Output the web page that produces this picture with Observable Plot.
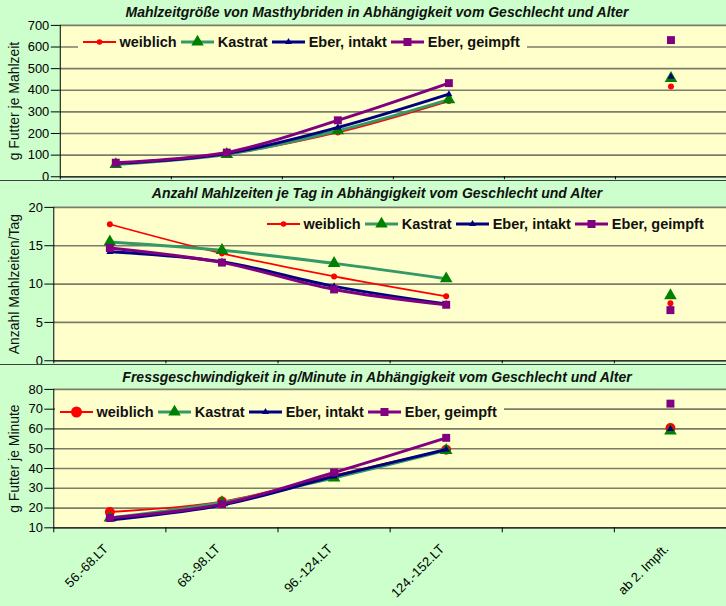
<!DOCTYPE html>
<html><head><meta charset="utf-8">
<script src="https://cdn.jsdelivr.net/npm/d3@7"></script>
<script src="https://cdn.jsdelivr.net/npm/@observablehq/plot@0.6"></script>
<style>
body{margin:0;background:#ccffcc;}
#wrap{position:relative;width:726px;height:606px;overflow:hidden;background:#ccffcc;font-family:"Liberation Sans",Arial,sans-serif;}
.panel{position:absolute;left:0;}
.title{position:absolute;left:0;width:754px;text-align:center;font-weight:bold;font-style:italic;font-size:14px;color:#111;line-height:16px;}
.legend{position:absolute;background:#ffffcc;display:flex;align-items:center;font-weight:bold;font-size:14.5px;color:#111;box-sizing:border-box;padding-left:5px;white-space:nowrap;}
.legend svg{display:block;margin-right:3.5px;}
.legend span{margin-right:4.5px;}
.sep{position:absolute;left:0;width:726px;height:1px;background:#404040;}
</style></head>
<body>
<div id="wrap"></div>
<script>
const categories = ["56.-68.LT", "68.-98.LT", "96.-124.LT", "124.-152.LT", "", "ab 2. Impft."];
const series = ["weiblich", "Kastrat", "Eber, intakt", "Eber, geimpft"];

const titles = [
  "Mahlzeitgröße von Masthybriden in Abhängigkeit vom Geschlecht und Alter",
  "Anzahl Mahlzeiten je Tag in Abhängigkeit vom Geschlecht und Alter",
  "Fressgeschwindigkeit in g/Minute in Abhängigkeit vom Geschlecht und Alter"
];
const yLabels = ["g Futter je Mahlzeit", "Anzahl Mahlzeiten/Tag", "g Futter je Minute"];

const yTicks1 = [0, 100, 200, 300, 400, 500, 600, 700];
const yTicks2 = [0, 5, 10, 15, 20];
const yTicks3 = [10, 20, 30, 40, 50, 60, 70, 80];

// Panel 1: g Futter je Mahlzeit
const mahl_weiblich = [62, 105, 205, 350, null, 417];
const mahl_kastrat  = [57, 104, 213, 357, null, 455];
const mahl_intakt   = [62, 108, 228, 382, null, 462];
const mahl_geimpft  = [65, 112, 261, 433, null, 632];

// Panel 2: Anzahl Mahlzeiten je Tag
const anz_weiblich = [17.8, 14.0, 11.0, 8.4, null, 7.5];
const anz_kastrat  = [15.5, 14.4, 12.7, 10.7, null, 8.5];
const anz_intakt   = [14.2, 12.9, 9.7, 7.4, null, 6.7];
const anz_geimpft  = [14.7, 12.8, 9.3, 7.3, null, 6.6];

// Panel 3: g Futter je Minute
const fress_weiblich = [18.0, 23.3, 36.5, 49.5, null, 60.5];
const fress_kastrat  = [15.0, 22.8, 35.3, 49.2, null, 59.0];
const fress_intakt   = [14.0, 21.5, 36.0, 49.6, null, 60.0];
const fress_geimpft  = [15.0, 22.0, 38.0, 55.5, null, 72.8];

const lineColors   = ["#ff0000", "#339966", "#000080", "#800080"];
const markerColors = ["#ff0000", "#008000", "#000080", "#800080"];
const lineWidths   = [1.8, 3, 3, 3];
const symbols      = ["circle", "triangle", "triangle", "square"];

const FONT = '"Liberation Sans", Arial, sans-serif';
const wrap = document.getElementById("wrap");

function makePanel(cfg) {
  const n = categories.length;
  const boundaries = d3.range(n + 1).map(i => i - 0.5);
  const labelIdx = categories.map((c, i) => c ? i : null).filter(i => i != null);
  const marks = [
    Plot.frame({fill: "#ffffcc"}),
    Plot.ruleY(cfg.yTicks, {stroke: "#7c7c68", strokeWidth: 1.7}),
    Plot.ruleY([cfg.yDomain[0]], {stroke: "#333333", strokeWidth: 1.6}),
    Plot.ruleX([-0.5], {stroke: "#000000", strokeWidth: 1}),
    Plot.axisY({ticks: cfg.yTicks, tickSize: 9, tickPadding: 2, fontSize: 13, label: null}),
    Plot.axisX({ticks: boundaries, tickFormat: () => "", tickSize: cfg.xLabels ? 5 : 3, label: null}),
    Plot.text([cfg.yLabel], {frameAnchor: "left", textAnchor: "middle", rotate: -90, dx: -(cfg.ml - 14), fontSize: 14, fill: "#111"})
  ];
  if (cfg.xLabels) {
    marks.push(Plot.axisX({ticks: labelIdx, tickFormat: i => categories[i], tickRotate: -45, tickSize: 0, tickPadding: 19, dx: -4, fontSize: 13, label: null}));
  }
  cfg.values.forEach((vals, k) => {
    const data = vals.map((v, i) => ({x: i, y: v}));
    marks.push(Plot.line(data, {x: "x", y: "y", stroke: lineColors[k], strokeWidth: lineWidths[k], curve: "catmull-rom"}));
    marks.push(Plot.dot(data.filter(d => d.y != null), {x: "x", y: "y", symbol: symbols[k], r: cfg.markR[k], fill: markerColors[k], stroke: "none"}));
  });
  const svg = Plot.plot({
    width: 729, height: cfg.height,
    marginTop: cfg.mt, marginBottom: cfg.mb, marginLeft: cfg.ml, marginRight: 0,
    x: {domain: [-0.5, n - 0.5]},
    y: {domain: cfg.yDomain},
    style: {background: "transparent", fontFamily: FONT, color: "#000", overflow: "visible"},
    marks
  });
  svg.classList.add("panel");
  svg.style.top = cfg.top + "px";
  wrap.appendChild(svg);
}

function swatch(k, redR) {
  const w = 33, h = 16, cx = 16.5, cy = 8;
  let m = "";
  if (symbols[k] === "circle") m = `<circle cx="${cx}" cy="${cy}" r="${redR}" fill="${markerColors[k]}"/>`;
  else if (symbols[k] === "square") m = `<rect x="${cx-4}" y="${cy-4}" width="8" height="8" fill="${markerColors[k]}"/>`;
  else {
    const tw = k === 1 ? 12.5 : 7, th = tw * 0.866;
    m = `<path d="M${cx},${cy - th*2/3}L${cx + tw/2},${cy + th/3}L${cx - tw/2},${cy + th/3}Z" fill="${markerColors[k]}"/>`;
  }
  return `<svg width="${w}" height="${h}"><line x1="0" x2="${w}" y1="${cy}" y2="${cy}" stroke="${lineColors[k]}" stroke-width="${k===0?2:3.2}"/>${m}</svg>`;
}

function makeLegend(left, top, width, redR) {
  const d = document.createElement("div");
  d.className = "legend";
  Object.assign(d.style, {left: left + "px", top: top + "px", width: width + "px", height: "20px"});
  d.innerHTML = series.map((s, k) => swatch(k, redR) + `<span>${s}</span>`).join("");
  wrap.appendChild(d);
}

function makeTitle(text, top) {
  const d = document.createElement("div");
  d.className = "title";
  d.style.top = top + "px";
  d.textContent = text;
  wrap.appendChild(d);
}

function makeSep(top) {
  const d = document.createElement("div");
  d.className = "sep";
  d.style.top = top + "px";
  wrap.appendChild(d);
}

makePanel({values: [mahl_weiblich, mahl_kastrat, mahl_intakt, mahl_geimpft], yDomain: [0, 700], yTicks: yTicks1,
  yLabel: yLabels[0], top: 0, height: 180, mt: 25, mb: 3, ml: 60, markR: [3, 4.7, 2.6, 4.5], xLabels: false});
makePanel({values: [anz_weiblich, anz_kastrat, anz_intakt, anz_geimpft], yDomain: [0, 20], yTicks: yTicks2,
  yLabel: yLabels[1], top: 181, height: 181, mt: 26, mb: 1, ml: 53.5, markR: [3, 4.7, 2.6, 4.5], xLabels: false});
makePanel({values: [fress_weiblich, fress_kastrat, fress_intakt, fress_geimpft], yDomain: [10, 80], yTicks: yTicks3,
  yLabel: yLabels[2], top: 365, height: 241, mt: 24, mb: 78, ml: 53.5, markR: [5, 4.7, 2.6, 4.5], xLabels: true});

makeSep(180);
makeSep(364);

makeTitle(titles[0], 4);
makeTitle(titles[1], 185);
makeTitle(titles[2], 369);

makeLegend(78, 32, 449, 2.8);
makeLegend(262, 214, 449, 2.8);
makeLegend(55, 402, 449, 5.5);
</script>
</body></html>
